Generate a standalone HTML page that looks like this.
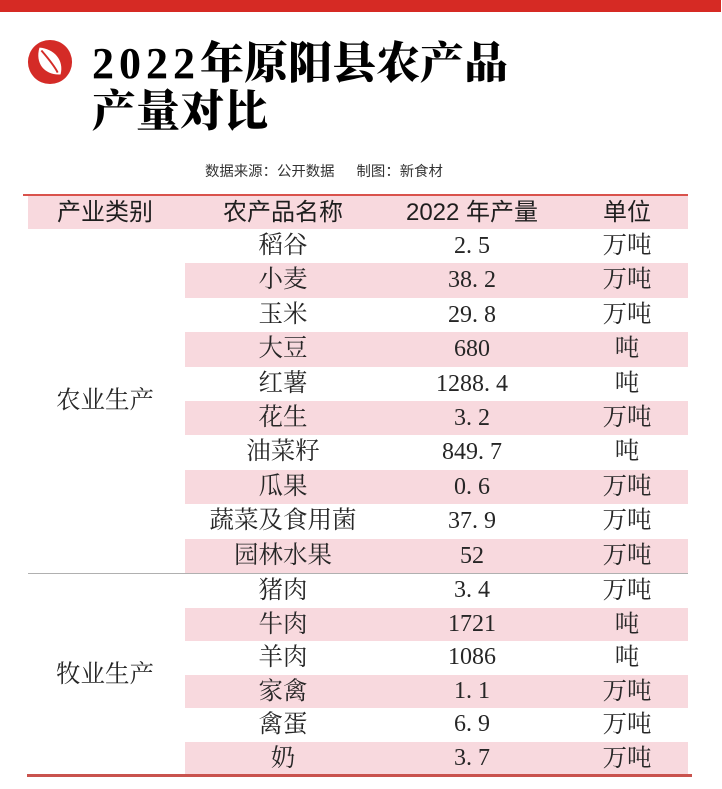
<!DOCTYPE html>
<html>
<head>
<meta charset="utf-8">
<style>
  html,body{margin:0;padding:0;}
  body{width:722px;height:789px;position:relative;background:#fff;overflow:hidden;
       font-family:"Liberation Serif","Noto Serif CJK SC",serif;color:#262626;}
  .abs{position:absolute;}
  .topbar{left:0;top:0;width:721px;height:12px;background:#d62a24;}
  .title{left:92px;top:40px;font-family:"Liberation Serif","Noto Serif CJK SC",serif;font-weight:900;
         font-size:44px;line-height:48px;color:#000;white-space:nowrap;}
  .title .dg{letter-spacing:5px;}
  .sub{left:205px;top:162px;font-family:"Liberation Sans","Noto Sans CJK SC",sans-serif;font-size:14.4px;
       line-height:20px;color:#333;white-space:nowrap;}
  .redline{left:23px;top:194px;width:665px;height:2px;background:#d9524c;}
  .hdr{left:28px;top:196px;width:660px;height:33px;background:#f8d9de;}
  .hdr span{position:absolute;top:0;line-height:33px;text-align:center;font-family:"Liberation Sans","Noto Sans CJK SC",sans-serif;
            font-size:24px;color:#1e1e1e;white-space:nowrap;}
  .row{position:absolute;left:0;width:722px;}
  .row .bg{position:absolute;left:185px;width:503px;top:0;bottom:0;background:#f8d9de;}
  .row > span{position:absolute;top:0;text-align:center;white-space:nowrap;font-size:24.5px;}
  .n{left:183px;width:200px;font-family:"Liberation Serif","Noto Serif CJK SC",serif;}
  .row > .v{left:372px;width:200px;font-family:"Liberation Serif",serif;font-size:24px;}
  .u{left:577px;width:100px;font-family:"Liberation Serif","Noto Serif CJK SC",serif;}
  .p{display:inline-block;width:12px;text-align:left;}
  .cat{position:absolute;left:30px;width:150px;text-align:center;font-size:24.5px;
       font-family:"Liberation Serif","Noto Serif CJK SC",serif;}
  .sep{left:28px;top:573px;width:660px;height:1px;background:#b0b0b0;}
  .bot{left:27px;top:774px;width:665px;height:3px;background:#c9534e;}
</style>
</head>
<body>
<div class="abs topbar"></div>

<svg class="abs" style="left:27px;top:39px" width="46" height="46" viewBox="0 0 48 48">
  <circle cx="24" cy="24" r="23" fill="#d42b27"/>
  <path d="M35 37 C19 38 8 26 13 9 C28 10 39 22 35 37 Z" fill="#fff"/>
  <path d="M15 12 C21 19 28 27 32 35" stroke="#d42b27" stroke-width="2" fill="none"/>
</svg>

<div class="abs title"><span class="dg">2022</span>年原阳县农产品<br>产量对比</div>

<div class="abs sub">数据来源：公开数据<span style="display:inline-block;width:22px"></span>制图：新食材</div>

<div class="abs redline"></div>
<div class="abs hdr">
  <span style="left:2px;width:150px">产业类别</span>
  <span style="left:155px;width:200px">农产品名称</span>
  <span style="left:344px;width:200px">2022 年产量</span>
  <span style="left:549px;width:100px">单位</span>
</div>

<!-- Agricultural rows -->
<div class="row" style="top:229px;height:34.4px;line-height:34.4px"><span class="n">稻谷</span><span class="v">2<span class="p">.</span>5</span><span class="u">万吨</span></div>
<div class="row" style="top:263.4px;height:34.4px;line-height:34.4px"><div class="bg"></div><span class="n">小麦</span><span class="v">38<span class="p">.</span>2</span><span class="u">万吨</span></div>
<div class="row" style="top:297.8px;height:34.4px;line-height:34.4px"><span class="n">玉米</span><span class="v">29<span class="p">.</span>8</span><span class="u">万吨</span></div>
<div class="row" style="top:332.2px;height:34.4px;line-height:34.4px"><div class="bg"></div><span class="n">大豆</span><span class="v">680</span><span class="u">吨</span></div>
<div class="row" style="top:366.6px;height:34.4px;line-height:34.4px"><span class="n">红薯</span><span class="v">1288<span class="p">.</span>4</span><span class="u">吨</span></div>
<div class="row" style="top:401px;height:34.4px;line-height:34.4px"><div class="bg"></div><span class="n">花生</span><span class="v">3<span class="p">.</span>2</span><span class="u">万吨</span></div>
<div class="row" style="top:435.4px;height:34.4px;line-height:34.4px"><span class="n">油菜籽</span><span class="v">849<span class="p">.</span>7</span><span class="u">吨</span></div>
<div class="row" style="top:469.8px;height:34.4px;line-height:34.4px"><div class="bg"></div><span class="n">瓜果</span><span class="v">0<span class="p">.</span>6</span><span class="u">万吨</span></div>
<div class="row" style="top:504.2px;height:34.4px;line-height:34.4px"><span class="n">蔬菜及食用菌</span><span class="v">37<span class="p">.</span>9</span><span class="u">万吨</span></div>
<div class="row" style="top:538.6px;height:34.4px;line-height:34.4px"><div class="bg"></div><span class="n">园林水果</span><span class="v">52</span><span class="u">万吨</span></div>

<div class="cat" style="top:384px;line-height:34px">农业生产</div>

<div class="abs sep"></div>

<!-- Pastoral rows -->
<div class="row" style="top:574px;height:33.5px;line-height:33.5px"><span class="n">猪肉</span><span class="v">3<span class="p">.</span>4</span><span class="u">万吨</span></div>
<div class="row" style="top:607.5px;height:33.5px;line-height:33.5px"><div class="bg"></div><span class="n">牛肉</span><span class="v">1721</span><span class="u">吨</span></div>
<div class="row" style="top:641px;height:33.5px;line-height:33.5px"><span class="n">羊肉</span><span class="v">1086</span><span class="u">吨</span></div>
<div class="row" style="top:674.5px;height:33.5px;line-height:33.5px"><div class="bg"></div><span class="n">家禽</span><span class="v">1<span class="p">.</span>1</span><span class="u">万吨</span></div>
<div class="row" style="top:708px;height:33.5px;line-height:33.5px"><span class="n">禽蛋</span><span class="v">6<span class="p">.</span>9</span><span class="u">万吨</span></div>
<div class="row" style="top:741.5px;height:33px;line-height:33px"><div class="bg"></div><span class="n">奶</span><span class="v">3<span class="p">.</span>7</span><span class="u">万吨</span></div>

<div class="cat" style="top:658px;line-height:34px">牧业生产</div>

<div class="abs bot"></div>
</body>
</html>
